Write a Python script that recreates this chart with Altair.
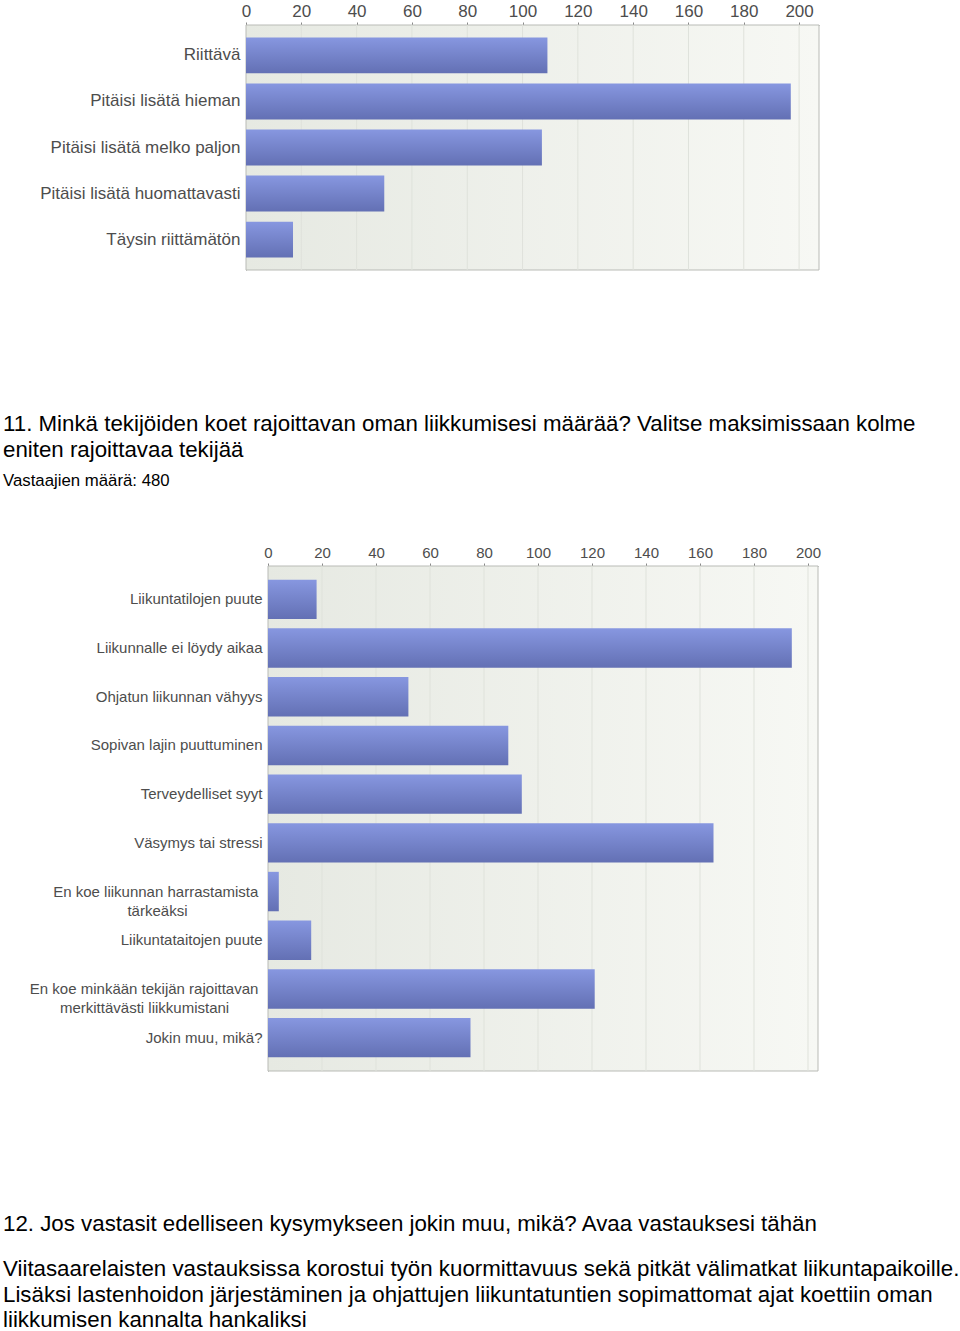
import altair as alt
import pandas as pd

# ---------------- data ----------------
q10_categories = [
    "Riittävä",
    "Pitäisi lisätä hieman",
    "Pitäisi lisätä melko paljon",
    "Pitäisi lisätä huomattavasti",
    "Täysin riittämätön",
]
q10_counts = [109, 197, 107, 50, 17]

q11_categories = [
    "Liikuntatilojen puute",
    "Liikunnalle ei löydy aikaa",
    "Ohjatun liikunnan vähyys",
    "Sopivan lajin puuttuminen",
    "Terveydelliset syyt",
    "Väsymys tai stressi",
    "En koe liikunnan harrastamista tärkeäksi",
    "Liikuntataitojen puute",
    "En koe minkään tekijän rajoittavan merkittävästi liikkumistani",
    "Jokin muu, mikä?",
]
q11_counts = [18, 194, 52, 89, 94, 165, 4, 16, 121, 75]

tick_values = [0, 20, 40, 60, 80, 100, 120, 140, 160, 180, 200]

title11_lines = [
    "11. Minkä tekijöiden koet rajoittavan oman liikkumisesi määrää? Valitse maksimissaan kolme",
    "eniten rajoittavaa tekijää",
]
respondents = "Vastaajien määrä: 480"
title12 = "12. Jos vastasit edelliseen kysymykseen jokin muu, mikä? Avaa vastauksesi tähän"
answer_lines = [
    "Viitasaarelaisten vastauksissa korostui työn kuormittavuus sekä pitkät välimatkat liikuntapaikoille.",
    "Lisäksi lastenhoidon järjestäminen ja ohjattujen liikuntatuntien sopimattomat ajat koettiin oman",
    "liikkumisen kannalta hankaliksi",
]

# ------------- presentation helpers -------------
NBSP = "\u00a0"
END = "\u200b"  # keeps the padding from being trimmed
# line breaks (second line centred under first) for the long axis labels
wrapped = {
    "En koe liikunnan harrastamista tärkeäksi":
        "En koe liikunnan harrastamista" + NBSP + END + "|" + "tärkeäksi" + NBSP * 18 + END,
    "En koe minkään tekijän rajoittavan merkittävästi liikkumistani":
        "En koe minkään tekijän rajoittavan" + NBSP + END + "|" + "merkittävästi liikkumistani" + NBSP * 8 + END,
}

FONT = "Liberation Sans"
BAR_FILL = alt.Gradient(
    gradient="linear", x1=0, x2=0, y1=0, y2=1,
    stops=[alt.GradientStop(color="#8797e0", offset=0),
           alt.GradientStop(color="#6370b4", offset=1)],
)
BG_FILL = alt.Gradient(
    gradient="linear", x1=0, x2=1, y1=0, y2=0,
    stops=[alt.GradientStop(color="#e6e9e2", offset=0),
           alt.GradientStop(color="#f7f8f4", offset=1)],
)


def bar_panel(cats, counts, x_range, y_range, xmax, font_size, p_inner, p_outer):
    labels = [wrapped.get(c, c) for c in cats]
    df = pd.DataFrame({"cat": labels, "count": counts})
    xscale = alt.Scale(domain=[0, xmax], range=x_range, nice=False, zero=True)
    xaxis = alt.Axis(
        orient="top", offset=-y_range[0], values=tick_values, title=None,
        grid=False, tickSize=3, tickColor="#8a8a8a", domainColor="#8a8a8a",
        labelFont=FONT, labelFontSize=font_size, labelColor="#4d4d4d",
        labelBaseline="alphabetic", labelPadding=6, labelFlush=False,
        labelOverlap=False,
    )
    y0, y1 = y_range

    bg = alt.Chart(pd.DataFrame({"count": [0], "b": [xmax]})).mark_rect(
        fill=BG_FILL, stroke="#b9bbb6", strokeWidth=1
    ).encode(
        x=alt.X("count:Q", scale=xscale, axis=xaxis),
        x2="b:Q",
        y=alt.value(y0), y2=alt.value(y1),
    )
    grid = alt.Chart(pd.DataFrame({"count": tick_values[1:]})).mark_rule(
        color="#dfe2db", strokeWidth=1
    ).encode(
        x=alt.X("count:Q", scale=xscale, axis=xaxis),
        y=alt.value(y0), y2=alt.value(y1),
    )
    bars = alt.Chart(df).mark_bar(fill=BAR_FILL).encode(
        x=alt.X("count:Q", scale=xscale, axis=xaxis),
        y=alt.Y(
            "cat:N", sort=labels,
            scale=alt.Scale(range=[y0, y1], paddingInner=p_inner, paddingOuter=p_outer),
            axis=alt.Axis(
                orient="left", offset=-x_range[0], title=None, ticks=False,
                domainColor="#8a8a8a", labelFont=FONT, labelFontSize=font_size,
                labelColor="#4d4d4d", labelPadding=6, labelLimit=0,
                labelLineHeight=19, labelExpr="split(datum.label, '|')",
            ),
        ),
    )
    return alt.layer(bg, grid, bars)


def text_line(s, y, size):
    return alt.Chart(pd.DataFrame({"t": [s]})).mark_text(
        align="left", baseline="alphabetic", font=FONT, fontSize=size, color="#000000"
    ).encode(x=alt.value(3), y=alt.value(y), text="t:N")


chart1 = bar_panel(q10_categories, q10_counts, [246, 819], [25, 270], 207.2, 17, 0.22, 0.27)
chart2 = bar_panel(q11_categories, q11_counts, [268, 818], [566, 1071], 203.7, 15, 0.19, 0.28)

texts = [
    text_line(title11_lines[0], 431, 22.3),
    text_line(title11_lines[1], 457, 22.3),
    text_line(respondents, 486, 16.8),
    text_line(title12, 1231, 22.3),
    text_line(answer_lines[0], 1276, 22.3),
    text_line(answer_lines[1], 1302, 22.3),
    text_line(answer_lines[2], 1327, 22.3),
]

chart = alt.layer(chart1, chart2, *texts).resolve_scale(
    x="independent", y="independent"
).properties(
    width=960, height=1331,
    autosize=alt.AutoSizeParams(type="none"),
    padding=0,
).configure_view(stroke="transparent")

chart.save("out.html", embed_options={"renderer": "svg", "actions": False})
